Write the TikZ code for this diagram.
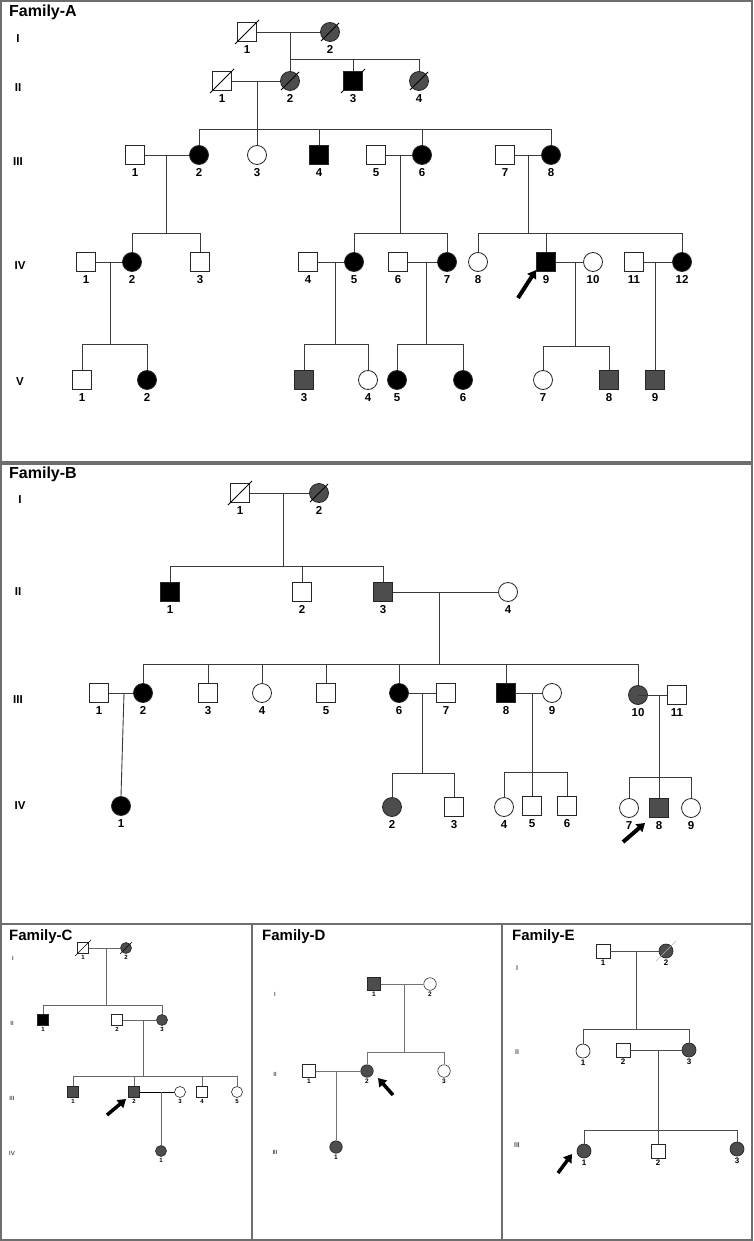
\documentclass[tikz,border=0pt]{standalone}
\usepackage{fontspec}
\setmainfont{Liberation Sans}
\usetikzlibrary{arrows.meta,calc}
\definecolor{dg}{HTML}{4D4D4D}
\definecolor{ln}{HTML}{3A3A3A}
\definecolor{fr}{HTML}{6E6E6E}
\newcommand{\Pn}[4]{\node[#1,label={[lb]below:#4}] (#2) at (#3) {};}
\newcommand{\Sl}[2]{\draw[slash] ([shift={(-#2pt,-#2pt)}]#1.center) -- ([shift={(#2pt,#2pt)}]#1.center);}
\begin{document}
\begin{tikzpicture}[x=1pt,y=-1pt,
 sq/.style={draw=black!85,line width=0.8pt,fill=white,rectangle,minimum size=19pt,inner sep=0pt},
 ci/.style={draw=black!85,line width=0.8pt,fill=white,circle,minimum size=19pt,inner sep=0pt},
 blk/.style={fill=black},
 gry/.style={fill=dg},
 lnk/.style={draw=ln,line width=0.9pt},
 slash/.style={draw=black,line width=0.8pt},
 lb/.style={font=\fontsize{11.5}{12}\selectfont\bfseries,inner sep=3pt},
 gl/.style={font=\fontsize{11.5}{12}\selectfont\bfseries},
 ttl/.style={font=\fontsize{16}{18}\selectfont\bfseries,anchor=base west,inner sep=0pt},
 frame/.style={draw=fr,line width=1.4pt},
 prob/.style={-{Triangle[length=8pt,width=10pt]},line width=4pt,black},
]
\useasboundingbox (0,0) rectangle (753,1241);
% frames
\draw[frame] (1,1) rectangle (752,462);
\draw[frame] (1,464) rectangle (752,924);
\draw[frame] (1,924) rectangle (252,1240);
\draw[frame] (252,924) rectangle (502,1240);
\draw[frame] (502,924) rectangle (752,1240);

% ================= Family A =================
\node[ttl] (tA) at (9,17) {Family-A};
\node[gl] (gA1) at (18,39) {I};
\node[gl] (gA2) at (18,88) {II};
\node[gl] (gA3) at (18,162) {III};
\node[gl] (gA4) at (20,266) {IV};
\node[gl] (gA5) at (20,382) {V};
% gen I
\Pn{sq}{a11}{247,32}{1}
\Pn{ci,gry}{a12}{330,32}{2}
% gen II
\Pn{sq}{a21}{222,81}{1}
\Pn{ci,gry}{a22}{290,81}{2}
\Pn{sq,blk}{a23}{353,81}{3}
\Pn{ci,gry}{a24}{419,81}{4}
% gen III
\Pn{sq}{a31}{135,155}{1}
\Pn{ci,blk}{a32}{199,155}{2}
\Pn{ci}{a33}{257,155}{3}
\Pn{sq,blk}{a34}{319,155}{4}
\Pn{sq}{a35}{376,155}{5}
\Pn{ci,blk}{a36}{422,155}{6}
\Pn{sq}{a37}{505,155}{7}
\Pn{ci,blk}{a38}{551,155}{8}
% gen IV
\Pn{sq}{a41}{86,262}{1}
\Pn{ci,blk}{a42}{132,262}{2}
\Pn{sq}{a43}{200,262}{3}
\Pn{sq}{a44}{308,262}{4}
\Pn{ci,blk}{a45}{354,262}{5}
\Pn{sq}{a46}{398,262}{6}
\Pn{ci,blk}{a47}{447,262}{7}
\Pn{ci}{a48}{478,262}{8}
\Pn{sq,blk}{a49}{546,262}{9}
\Pn{ci}{a410}{593,262}{10}
\Pn{sq}{a411}{634,262}{11}
\Pn{ci,blk}{a412}{682,262}{12}
% gen V
\Pn{sq}{a51}{82,380}{1}
\Pn{ci,blk}{a52}{147,380}{2}
\Pn{sq,gry}{a53}{304,380}{3}
\Pn{ci}{a54}{368,380}{4}
\Pn{ci,blk}{a55}{397,380}{5}
\Pn{ci,blk}{a56}{463,380}{6}
\Pn{ci}{a57}{543,380}{7}
\Pn{sq,gry}{a58}{609,380}{8}
\Pn{sq,gry}{a59}{655,380}{9}
% slashes
\Sl{a11}{12} \Sl{a12}{9} \Sl{a21}{12} \Sl{a22}{9} \Sl{a23}{12} \Sl{a24}{9}
% connectors A
\coordinate (am1) at (290,32); \coordinate (as1) at (290,59);
\draw[lnk] (a11) -- (a12);
\draw[lnk] (am1) -- (as1);
\draw[lnk] (a22.north |- as1) -- (a24.north |- as1);
\draw[lnk] (a22.north |- as1) -- (a22.north);
\draw[lnk] (a23.north |- as1) -- (a23.north);
\draw[lnk] (a24.north |- as1) -- (a24.north);
\coordinate (am2) at (257,81); \coordinate (as2) at (257,129);
\draw[lnk] (a21) -- (a22);
\draw[lnk] (am2) -- (as2);
\draw[lnk] (a32.north |- as2) -- (a38.north |- as2);
\foreach \n in {a32,a33,a34,a36,a38} \draw[lnk] (\n.north |- as2) -- (\n.north);
\coordinate (am3) at (166,155); \coordinate (as3) at (166,233);
\draw[lnk] (a31) -- (a32);
\draw[lnk] (am3) -- (as3);
\draw[lnk] (a42.north |- as3) -- (a43.north |- as3);
\foreach \n in {a42,a43} \draw[lnk] (\n.north |- as3) -- (\n.north);
\coordinate (am4) at (400,155); \coordinate (as4) at (400,233);
\draw[lnk] (a35) -- (a36);
\draw[lnk] (am4) -- (as4);
\draw[lnk] (a45.north |- as4) -- (a47.north |- as4);
\foreach \n in {a45,a47} \draw[lnk] (\n.north |- as4) -- (\n.north);
\coordinate (am5) at (528,155); \coordinate (as5) at (528,233);
\draw[lnk] (a37) -- (a38);
\draw[lnk] (am5) -- (as5);
\draw[lnk] (a48.north |- as5) -- (a412.north |- as5);
\foreach \n in {a48,a49,a412} \draw[lnk] (\n.north |- as5) -- (\n.north);
\coordinate (am6) at (110,262); \coordinate (as6) at (110,344);
\draw[lnk] (a41) -- (a42);
\draw[lnk] (am6) -- (as6);
\draw[lnk] (a51.north |- as6) -- (a52.north |- as6);
\foreach \n in {a51,a52} \draw[lnk] (\n.north |- as6) -- (\n.north);
\coordinate (am7) at (335,262); \coordinate (as7) at (335,344);
\draw[lnk] (a44) -- (a45);
\draw[lnk] (am7) -- (as7);
\draw[lnk] (a53.north |- as7) -- (a54.north |- as7);
\foreach \n in {a53,a54} \draw[lnk] (\n.north |- as7) -- (\n.north);
\coordinate (am8) at (426,262); \coordinate (as8) at (426,344);
\draw[lnk] (a46) -- (a47);
\draw[lnk] (am8) -- (as8);
\draw[lnk] (a55.north |- as8) -- (a56.north |- as8);
\foreach \n in {a55,a56} \draw[lnk] (\n.north |- as8) -- (\n.north);
\coordinate (am9) at (575,262); \coordinate (as9) at (575,346);
\draw[lnk] (a49) -- (a410);
\draw[lnk] (am9) -- (as9);
\draw[lnk] (a57.north |- as9) -- (a58.north |- as9);
\foreach \n in {a57,a58} \draw[lnk] (\n.north |- as9) -- (\n.north);
\coordinate (am10) at (655,262);
\draw[lnk] (a411) -- (a412);
\draw[lnk] (am10) -- (a59.north);
\coordinate (arA1) at (518,298); \coordinate (arA2) at (536,270);
\draw[prob] (arA1) -- (arA2);

% ================= Family B =================
\node[ttl] (tB) at (9,478) {Family-B};
\node[gl] (gB1) at (20,500) {I};
\node[gl] (gB2) at (18,592) {II};
\node[gl] (gB3) at (18,700) {III};
\node[gl] (gB4) at (20,806) {IV};
\Pn{sq}{b11}{240,493}{1}
\Pn{ci,gry}{b12}{319,493}{2}
\Pn{sq,blk}{b21}{170,592}{1}
\Pn{sq}{b22}{302,592}{2}
\Pn{sq,gry}{b23}{383,592}{3}
\Pn{ci}{b24}{508,592}{4}
\Pn{sq}{b31}{99,693}{1}
\Pn{ci,blk}{b32}{143,693}{2}
\Pn{sq}{b33}{208,693}{3}
\Pn{ci}{b34}{262,693}{4}
\Pn{sq}{b35}{326,693}{5}
\Pn{ci,blk}{b36}{399,693}{6}
\Pn{sq}{b37}{446,693}{7}
\Pn{sq,blk}{b38}{506,693}{8}
\Pn{ci}{b39}{552,693}{9}
\Pn{ci,gry}{b310}{638,695}{10}
\Pn{sq}{b311}{677,695}{11}
\Pn{ci,blk}{b41}{121,806}{1}
\Pn{ci,gry}{b42}{392,807}{2}
\Pn{sq}{b43}{454,807}{3}
\Pn{ci}{b44}{504,807}{4}
\Pn{sq}{b45}{532,806}{5}
\Pn{sq}{b46}{567,806}{6}
\Pn{ci}{b47}{629,808}{7}
\Pn{sq,gry}{b48}{659,808}{8}
\Pn{ci}{b49}{691,808}{9}
\Sl{b11}{12} \Sl{b12}{9}
\coordinate (bm1) at (283,493); \coordinate (bs1) at (283,566);
\draw[lnk] (b11) -- (b12);
\draw[lnk] (bm1) -- (bs1);
\draw[lnk] (b21.north |- bs1) -- (b23.north |- bs1);
\foreach \n in {b21,b22,b23} \draw[lnk] (\n.north |- bs1) -- (\n.north);
\coordinate (bm2) at (439,592); \coordinate (bs2) at (439,664);
\draw[lnk] (b23) -- (b24);
\draw[lnk] (bm2) -- (bs2);
\draw[lnk] (b32.north |- bs2) -- (b310.north |- bs2);
\foreach \n in {b32,b33,b34,b35,b36,b38,b310} \draw[lnk] (\n.north |- bs2) -- (\n.north);
\coordinate (bm3) at (124,693);
\draw[lnk] (b31) -- (b32);
\draw[lnk] (bm3) -- (b41.north);
\coordinate (bm4) at (422,693); \coordinate (bs4) at (422,773);
\draw[lnk] (b36) -- (b37);
\draw[lnk] (bm4) -- (bs4);
\draw[lnk] (b42.north |- bs4) -- (b43.north |- bs4);
\foreach \n in {b42,b43} \draw[lnk] (\n.north |- bs4) -- (\n.north);
\coordinate (bm5) at (532,693); \coordinate (bs5) at (532,772);
\draw[lnk] (b38) -- (b39);
\draw[lnk] (bm5) -- (b45.north);
\draw[lnk] (b44.north |- bs5) -- (b46.north |- bs5);
\foreach \n in {b44,b46} \draw[lnk] (\n.north |- bs5) -- (\n.north);
\coordinate (bm6) at (659,695); \coordinate (bs6) at (659,777);
\draw[lnk] (b310.center) -- (b311);
\draw[lnk] (bm6) -- (b48.north);
\draw[lnk] (b47.north |- bs6) -- (b49.north |- bs6);
\foreach \n in {b47,b49} \draw[lnk] (\n.north |- bs6) -- (\n.north);
\coordinate (arB1) at (623,842); \coordinate (arB2) at (645,823);
\draw[prob] (arB1) -- (arB2);

% ================= Family C =================
\begin{scope}[sq/.append style={minimum size=11pt,line width=0.6pt},
  ci/.append style={minimum size=11pt,line width=0.6pt},
  lnk/.append style={draw=black!60,line width=0.7pt},
  slash/.append style={line width=0.6pt},
  lb/.style={font=\fontsize{6}{7}\selectfont\bfseries,inner sep=1.5pt},
  gl/.style={font=\fontsize{6}{7}\selectfont},
  prob/.append style={line width=3.5pt}]
\node[ttl,font=\fontsize{15}{17}\selectfont\bfseries] (tC) at (9,940) {Family-C};
\node[gl] (gC1) at (13,958) {I};
\node[gl] (gC2) at (12,1023) {II};
\node[gl] (gC3) at (12,1098) {III};
\node[gl] (gC4) at (12,1153) {IV};
\Pn{sq}{c11}{83,948}{1}
\Pn{ci,gry}{c12}{126,948}{2}
\Pn{sq,blk}{c21}{43,1020}{1}
\Pn{sq}{c22}{117,1020}{2}
\Pn{ci,gry}{c23}{162,1020}{3}
\Pn{sq,gry}{c31}{73,1092}{1}
\Pn{sq,gry}{c32}{134,1092}{2}
\Pn{ci}{c33}{180,1092}{3}
\Pn{sq}{c34}{202,1092}{4}
\Pn{ci}{c35}{237,1092}{5}
\Pn{ci,gry}{c41}{161,1151}{1}
\Sl{c11}{8} \Sl{c12}{6}
\coordinate (cm1) at (106,948); \coordinate (cs1) at (106,1005);
\draw[lnk] (c11) -- (c12);
\draw[lnk] (cm1) -- (cs1);
\draw[lnk] (c21.north |- cs1) -- (c23.north |- cs1);
\foreach \n in {c21,c23} \draw[lnk] (\n.north |- cs1) -- (\n.north);
\coordinate (cm2) at (143,1020); \coordinate (cs2) at (143,1076);
\draw[lnk] (c22) -- (c23);
\draw[lnk] (cm2) -- (cs2);
\draw[lnk] (c31.north |- cs2) -- (c35.north |- cs2);
\foreach \n in {c31,c32,c34,c35} \draw[lnk] (\n.north |- cs2) -- (\n.north);
\coordinate (cm3) at (161,1092);
\draw[lnk,draw=black] (c32) -- (c33);
\draw[lnk] (cm3) -- (c41.north);
\coordinate (arC1) at (107,1115); \coordinate (arC2) at (126,1099);
\draw[prob] (arC1) -- (arC2);
\end{scope}

% ================= Family D =================
\begin{scope}[sq/.append style={minimum size=12.5pt,line width=0.6pt},
  ci/.append style={minimum size=12.5pt,line width=0.6pt},
  lnk/.append style={draw=black!55,line width=0.7pt},
  lb/.style={font=\fontsize{6.5}{7}\selectfont\bfseries,inner sep=1.5pt},
  gl/.style={font=\fontsize{6}{7}\selectfont},
  prob/.append style={line width=3.5pt}]
\node[ttl,font=\fontsize{15}{17}\selectfont\bfseries] (tD) at (262,940) {Family-D};
\node[gl] (gD1) at (275,994) {I};
\node[gl] (gD2) at (275,1074) {II};
\node[gl] (gD3) at (275,1152) {III};
\Pn{sq,gry}{d11}{374,984}{1}
\Pn{ci}{d12}{430,984}{2}
\Pn{sq}{d21}{309,1071}{1}
\Pn{ci,gry}{d22}{367,1071}{2}
\Pn{ci}{d23}{444,1071}{3}
\Pn{ci,gry}{d31}{336,1147}{1}
\coordinate (dm1) at (404,984); \coordinate (ds1) at (404,1052);
\draw[lnk] (d11) -- (d12);
\draw[lnk] (dm1) -- (ds1);
\draw[lnk] (d22.north |- ds1) -- (d23.north |- ds1);
\foreach \n in {d22,d23} \draw[lnk] (\n.north |- ds1) -- (\n.north);
\coordinate (dm2) at (336,1071);
\draw[lnk] (d21) -- (d22);
\draw[lnk] (dm2) -- (d31.north);
\coordinate (arD1) at (393,1095); \coordinate (arD2) at (378,1078);
\draw[prob] (arD1) -- (arD2);
\end{scope}

% ================= Family E =================
\begin{scope}[sq/.append style={minimum size=14pt,line width=0.7pt},
  ci/.append style={minimum size=14pt,line width=0.7pt},
  lnk/.append style={draw=black!70,line width=0.8pt},
  lb/.style={font=\fontsize{8}{9}\selectfont\bfseries,inner sep=1.5pt},
  gl/.style={font=\fontsize{7}{8}\selectfont},
  prob/.append style={line width=3.5pt}]
\node[ttl,font=\fontsize{15}{17}\selectfont\bfseries] (tE) at (512,940) {Family-E};
\node[gl] (gE1) at (517,968) {I};
\node[gl] (gE2) at (517,1052) {II};
\node[gl] (gE3) at (517,1145) {III};
\Pn{sq}{e11}{603,951}{1}
\Pn{ci,gry}{e12}{666,951}{2}
\Pn{ci}{e21}{583,1051}{1}
\Pn{sq}{e22}{623,1050}{2}
\Pn{ci,gry}{e23}{689,1050}{3}
\Pn{ci,gry}{e31}{584,1151}{1}
\Pn{sq}{e32}{658,1151}{2}
\Pn{ci,gry}{e33}{737,1149}{3}
\draw[slash,draw=black!30,line width=0.5pt] ([shift={(-10pt,-10pt)}]e12.center) -- ([shift={(10pt,10pt)}]e12.center);
\coordinate (em1) at (636,951); \coordinate (es1) at (636,1029);
\draw[lnk] (e11) -- (e12);
\draw[lnk] (em1) -- (es1);
\draw[lnk] (e21.north |- es1) -- (e23.north |- es1);
\foreach \n in {e21,e23} \draw[lnk] (\n.north |- es1) -- (\n.north);
\coordinate (em2) at (658,1050); \coordinate (es2) at (658,1130);
\draw[lnk] (e22) -- (e23);
\draw[lnk] (em2) -- (e32.north);
\draw[lnk] (e31.north |- es2) -- (e33.north |- es2);
\foreach \n in {e31,e33} \draw[lnk] (\n.north |- es2) -- (\n.north);
\coordinate (arE1) at (558,1173); \coordinate (arE2) at (572,1154);
\draw[prob] (arE1) -- (arE2);
\end{scope}
\end{tikzpicture}
\end{document}
